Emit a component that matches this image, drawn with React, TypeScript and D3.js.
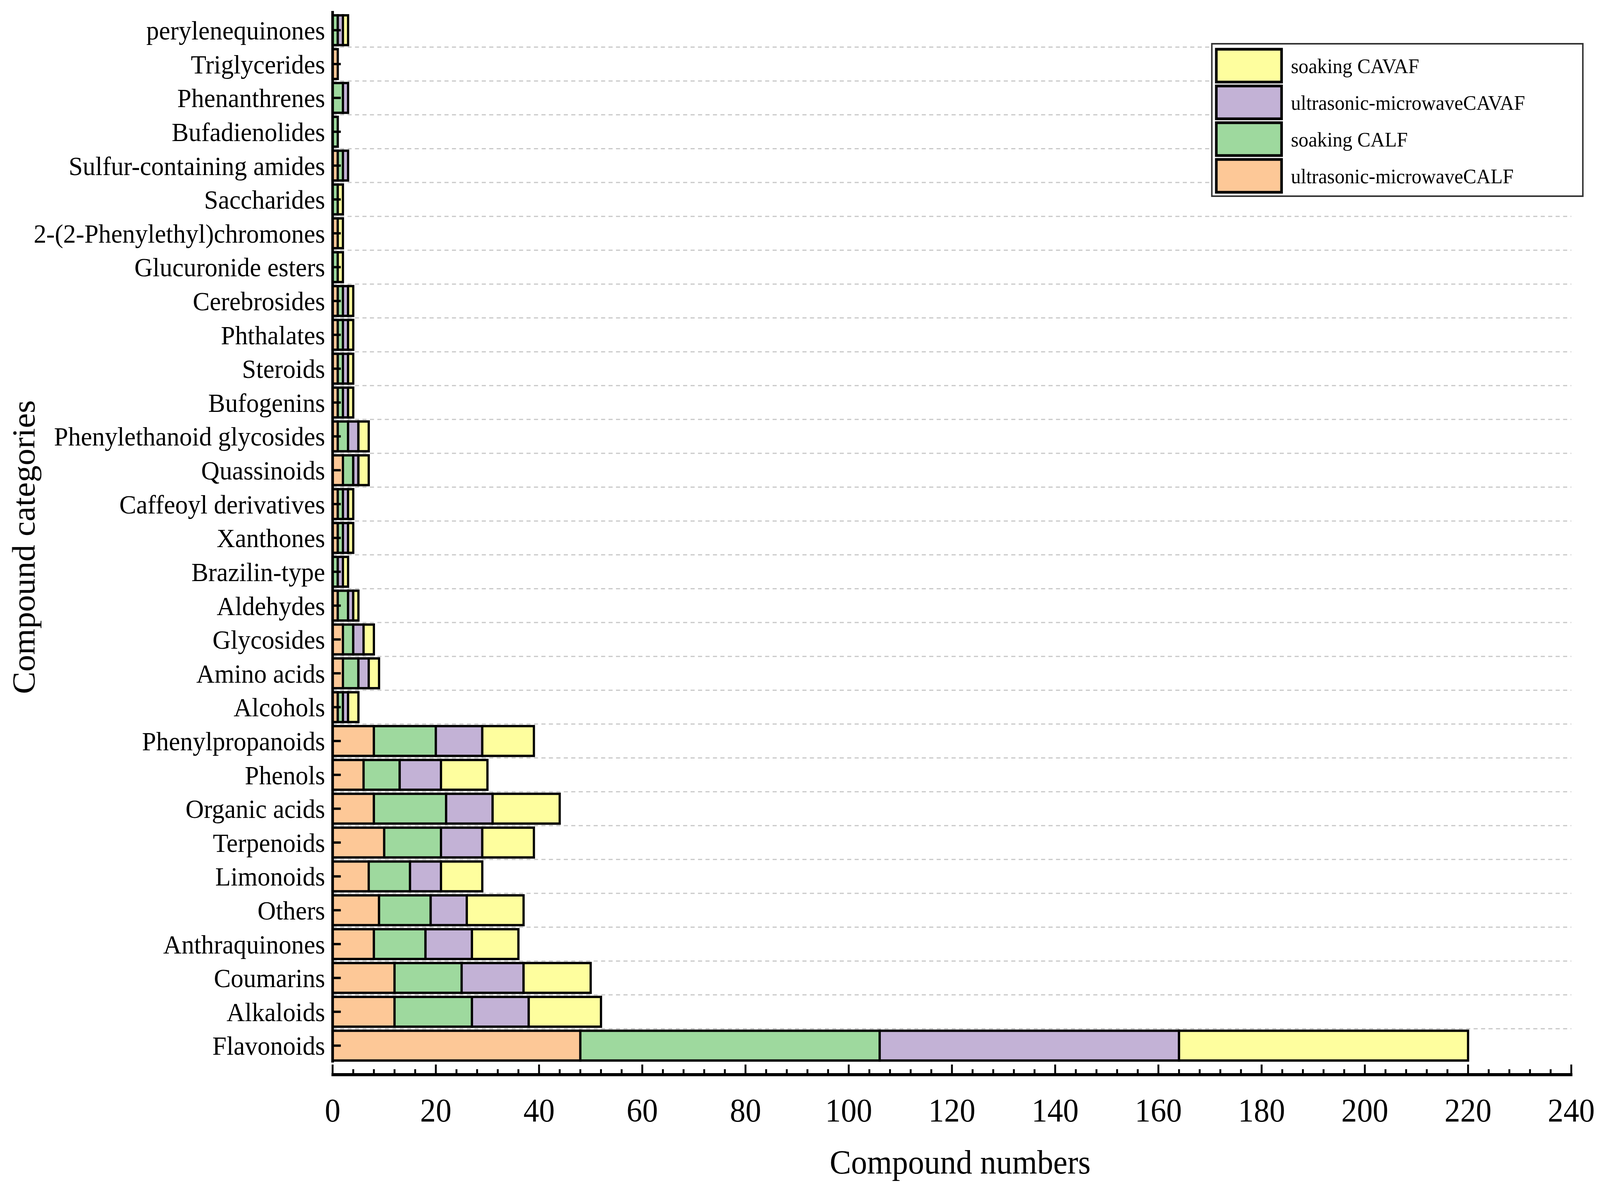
import React, { useRef, useEffect } from 'react';
import * as d3 from 'd3';

const categories = [
  'perylenequinones', 'Triglycerides', 'Phenanthrenes', 'Bufadienolides',
  'Sulfur-containing amides', 'Saccharides', '2-(2-Phenylethyl)chromones',
  'Glucuronide esters', 'Cerebrosides', 'Phthalates', 'Steroids', 'Bufogenins',
  'Phenylethanoid glycosides', 'Quassinoids', 'Caffeoyl derivatives', 'Xanthones',
  'Brazilin-type', 'Aldehydes', 'Glycosides', 'Amino acids', 'Alcohols',
  'Phenylpropanoids', 'Phenols', 'Organic acids', 'Terpenoids', 'Limonoids',
  'Others', 'Anthraquinones', 'Coumarins', 'Alkaloids', 'Flavonoids',
];

// stacked left to right in this order
const umCALF =    [0, 1, 0, 0, 1, 0, 1, 0, 1, 1, 1, 1, 1, 2, 1, 1, 0, 1, 2, 2, 1, 8, 6, 8, 10, 7, 9, 8, 12, 12, 48];
const soakCALF =  [1, 0, 2, 1, 1, 1, 0, 1, 1, 1, 1, 1, 2, 2, 1, 1, 1, 2, 2, 3, 1, 12, 7, 14, 11, 8, 10, 10, 13, 15, 58];
const umCAVAF =   [1, 0, 1, 0, 1, 0, 0, 0, 1, 1, 1, 1, 2, 1, 1, 1, 1, 1, 2, 2, 1, 9, 8, 9, 8, 6, 7, 9, 12, 11, 58];
const soakCAVAF = [1, 0, 0, 0, 0, 1, 1, 1, 1, 1, 1, 1, 2, 2, 1, 1, 1, 1, 2, 2, 2, 10, 9, 13, 10, 8, 11, 9, 13, 14, 56];

const seriesKeys = ['umCALF', 'soakCALF', 'umCAVAF', 'soakCAVAF'];
const seriesLabels = {
  umCALF: 'ultrasonic-microwaveCALF',
  soakCALF: 'soaking CALF',
  umCAVAF: 'ultrasonic-microwaveCAVAF',
  soakCAVAF: 'soaking CAVAF',
};
const seriesColors = {
  umCALF: '#FDC897',
  soakCALF: '#9ED99E',
  umCAVAF: '#C3B2D6',
  soakCAVAF: '#FEFE9E',
};
const legendOrder = ['soakCAVAF', 'umCAVAF', 'soakCALF', 'umCALF'];

const xMajorTicks = [0, 20, 40, 60, 80, 100, 120, 140, 160, 180, 200, 220, 240];

const W = 4291;
const H = 3040;
const FONT = '"Liberation Serif", "Times New Roman", serif';

export default function App() {
  const svgRef = useRef(null);

  useEffect(() => {
    if (!svgRef.current) return;
    const svg = d3.select(svgRef.current);
    svg.selectAll('*').remove();

    const x = d3.scaleLinear().domain([0, 240]).range([892, 4214]);
    const y = d3.scaleBand()
      .domain(categories)
      .range([34, 2719])
      .paddingInner(0.12)
      .paddingOuter(0.06);

    const table = categories.map((c, i) => ({
      category: c,
      umCALF: umCALF[i],
      soakCALF: soakCALF[i],
      umCAVAF: umCAVAF[i],
      soakCAVAF: soakCAVAF[i],
    }));
    const stacked = d3.stack().keys(seriesKeys)(table);

    svg.append('rect').attr('width', W).attr('height', H).attr('fill', '#fff');

    // dashed grid lines between categories
    const gap = y.step() * y.paddingInner() / 2;
    svg.append('g')
      .selectAll('line')
      .data(categories.slice(0, -1))
      .enter().append('line')
      .attr('x1', x(0))
      .attr('x2', x(240))
      .attr('y1', d => y(d) + y.bandwidth() + gap)
      .attr('y2', d => y(d) + y.bandwidth() + gap)
      .attr('stroke', '#c8c8c8')
      .attr('stroke-width', 3)
      .attr('stroke-dasharray', '11 9');

    // stacked bars
    const layers = svg.append('g')
      .selectAll('g')
      .data(stacked)
      .enter().append('g')
      .attr('fill', d => seriesColors[d.key]);

    layers.selectAll('rect')
      .data(d => d.filter(s => s[1] - s[0] > 0))
      .enter().append('rect')
      .attr('x', d => x(d[0]))
      .attr('y', d => y(d.data.category))
      .attr('width', d => x(d[1]) - x(d[0]))
      .attr('height', y.bandwidth())
      .attr('stroke', '#000')
      .attr('stroke-width', 6);

    // left axis
    const left = svg.append('g');
    left.append('line')
      .attr('x1', x(0)).attr('x2', x(0))
      .attr('y1', 28).attr('y2', 2719)
      .attr('stroke', '#000').attr('stroke-width', 7);
    left.selectAll('.ytick')
      .data(categories)
      .enter().append('line')
      .attr('class', 'ytick')
      .attr('x1', x(0)).attr('x2', x(0) + 22)
      .attr('y1', d => y(d) + y.bandwidth() / 2)
      .attr('y2', d => y(d) + y.bandwidth() / 2)
      .attr('stroke', '#000').attr('stroke-width', 6);
    left.selectAll('.ylabel')
      .data(categories)
      .enter().append('text')
      .attr('class', 'ylabel')
      .attr('x', 872)
      .attr('y', d => y(d) + y.bandwidth() / 2)
      .attr('dy', '0.35em')
      .attr('text-anchor', 'end')
      .attr('font-family', FONT)
      .attr('font-size', 68)
      .attr('fill', '#000')
      .text(d => d);

    // bottom axis
    const axisY = 2750;
    const bottom = svg.append('g');
    bottom.append('line')
      .attr('x1', x(0) - 3).attr('x2', x(240) + 3)
      .attr('y1', axisY).attr('y2', axisY)
      .attr('stroke', '#000').attr('stroke-width', 8);
    bottom.selectAll('.minor')
      .data(d3.range(0, 241, 4).filter(v => v % 20 !== 0))
      .enter().append('line')
      .attr('class', 'minor')
      .attr('x1', d => x(d)).attr('x2', d => x(d))
      .attr('y1', axisY).attr('y2', axisY - 14)
      .attr('stroke', '#000').attr('stroke-width', 5);
    bottom.selectAll('.major')
      .data(xMajorTicks)
      .enter().append('line')
      .attr('class', 'major')
      .attr('x1', d => x(d)).attr('x2', d => x(d))
      .attr('y1', axisY).attr('y2', axisY - 26)
      .attr('stroke', '#000').attr('stroke-width', 5);
    bottom.selectAll('.xlabel')
      .data(xMajorTicks)
      .enter().append('text')
      .attr('class', 'xlabel')
      .attr('x', d => x(d))
      .attr('y', 2870)
      .attr('text-anchor', 'middle')
      .attr('font-family', FONT)
      .attr('font-size', 84)
      .attr('fill', '#000')
      .text(d => d);

    // axis titles
    svg.append('text')
      .attr('x', 2575)
      .attr('y', 3003)
      .attr('text-anchor', 'middle')
      .attr('font-family', FONT)
      .attr('font-size', 86)
      .text('Compound numbers');
    svg.append('text')
      .attr('transform', 'translate(92,1400) rotate(-90)')
      .attr('text-anchor', 'middle')
      .attr('font-family', FONT)
      .attr('font-size', 86)
      .text('Compound categories');

    // legend
    const legend = svg.append('g');
    legend.append('rect')
      .attr('x', 3250).attr('y', 112)
      .attr('width', 995).attr('height', 390)
      .attr('fill', '#fff')
      .attr('stroke', '#333').attr('stroke-width', 4);
    const items = legend.selectAll('.item')
      .data(legendOrder)
      .enter().append('g')
      .attr('class', 'item')
      .attr('transform', (d, i) => `translate(3262, ${126 + i * 94})`);
    items.append('rect')
      .attr('width', 175).attr('height', 84)
      .attr('fill', d => seriesColors[d])
      .attr('stroke', '#000').attr('stroke-width', 7);
    items.append('text')
      .attr('x', 200)
      .attr('y', 42)
      .attr('dy', '0.35em')
      .attr('font-family', FONT)
      .attr('font-size', 53)
      .text(d => seriesLabels[d]);
  }, []);

  return (
    <svg
      ref={svgRef}
      viewBox={`0 0 ${W} ${H}`}
      preserveAspectRatio="none"
      style={{ position: 'fixed', left: 0, top: 0, width: '100vw', height: '100vh', display: 'block' }}
    />
  );
}
